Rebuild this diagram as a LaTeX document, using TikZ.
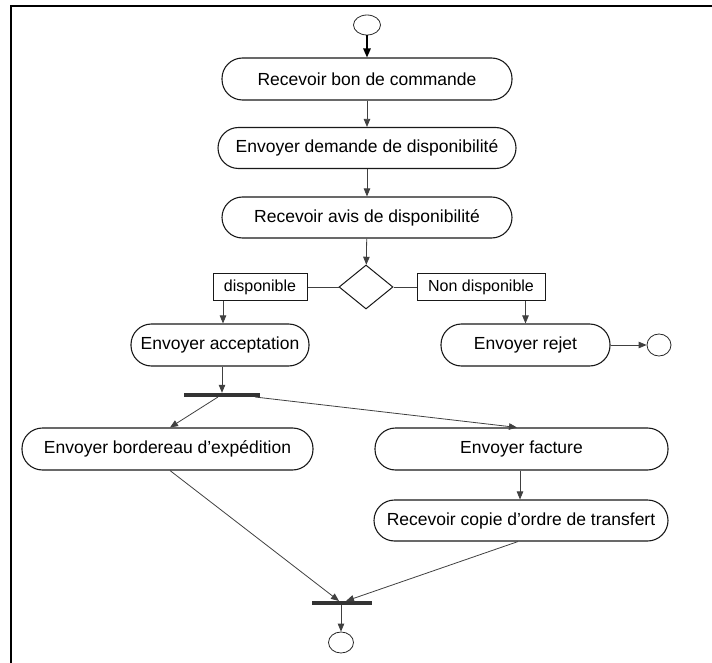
\documentclass[tikz,border=0pt]{standalone}
\usepackage{fontspec}
\setmainfont{Liberation Sans}
\usetikzlibrary{shapes.geometric,arrows.meta}
\begin{document}
\begin{tikzpicture}[x=1pt,y=-1pt,
  act/.style={draw=black!90, line width=1.1pt, rounded corners=20.5pt, inner sep=0pt,
    font=\fontsize{17.5}{20}\selectfont, minimum height=42pt},
  lbl/.style={draw=black!90, line width=1pt, inner sep=0pt, minimum height=27pt,
    font=\fontsize{16}{19}\selectfont},
  dec/.style={diamond, draw=black!90, line width=1pt, inner sep=0pt, minimum width=54pt, minimum height=44pt},
  bar/.style={fill=black!80, inner sep=0pt, minimum height=4pt},
  endpt/.style={ellipse, draw=black!85, line width=0.8pt, inner sep=0pt},
  flow/.style={draw=black!75, line width=0.8pt, -{Triangle[length=8pt,width=6.5pt]}},
  plain/.style={draw=black!75, line width=0.8pt}
]
\useasboundingbox (0,0) rectangle (712,663);
\draw[line width=2pt, black] (11,680) -- (11,6) -- (730,6);

\node[endpt, minimum width=27pt, minimum height=20pt] (start) at (367,25) {};
\node[act, minimum width=290pt] (b1) at (367,79) {Recevoir bon de commande};
\node[act, minimum width=298pt, minimum height=41pt] (b2) at (367,148) {Envoyer demande de disponibilité};
\node[act, minimum width=290pt, minimum height=41pt] (b3) at (367,217.5) {Recevoir avis de disponibilité};
\node[dec] (d) at (366,287) {};
\node[lbl, minimum width=94pt] (disp) at (260,287) {disponible};
\node[lbl, minimum width=128pt] (ndisp) at (481,287) {Non disponible};
\node[act, minimum width=178pt] (acc) at (220,345) {Envoyer acceptation};
\node[act, minimum width=169pt] (rej) at (525.5,345) {Envoyer rejet};
\node[endpt, minimum width=24pt, minimum height=22pt] (end1) at (659,345) {};
\node[bar, minimum width=76pt] (fork) at (222,395) {};
\node[act, minimum width=291pt] (bord) at (167.5,449) {Envoyer bordereau d’expédition};
\node[act, minimum width=293pt] (fact) at (521.5,449) {Envoyer facture};
\node[act, minimum width=294pt, minimum height=41pt] (copie) at (521,520.5) {Recevoir copie d’ordre de transfert};
\node[bar, minimum width=60pt] (join) at (342,603) {};
\node[endpt, minimum width=25pt, minimum height=21pt] (end2) at (341,642.5) {};

\coordinate (forkL) at (218,397);
\coordinate (forkR) at (255,397);
\coordinate (joinL) at (339,601);
\coordinate (joinR) at (346,601);

\draw[line width=1.3pt, black, -{Triangle[length=9pt,width=7.5pt]}] (start) -- (b1);
\draw[flow] (b1) -- (b2);
\draw[flow] (b2) -- (b3);
\draw[flow] (b3) -- (d);
\draw[plain] (d) -- (disp);
\draw[plain] (d) -- (ndisp);
\draw[flow] (disp.south -| 223,0) -- (acc.north -| 223,0);
\draw[flow] (ndisp.south -| 525.5,0) -- (rej.north);
\draw[flow] (rej) -- (end1);
\draw[flow] (acc.south -| 222,0) -- (fork.north -| 222,0);
\draw[flow] (forkL) -- (bord.north -| 170,0);
\draw[flow] (forkR) -- (fact.north -| 517,0);
\draw[flow] (fact.south -| 520,0) -- (copie.north -| 520,0);
\draw[flow] (bord.south -| 170,0) -- (joinL);
\draw[flow] (copie.south -| 518,0) -- (joinR);
\draw[flow] (join.south -| 341,0) -- (end2);
\end{tikzpicture}
\end{document}
